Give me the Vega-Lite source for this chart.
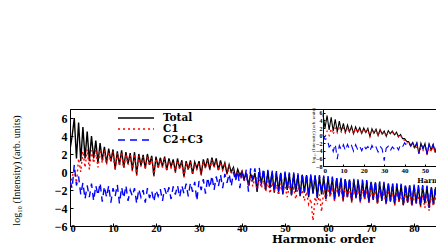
{
  "$schema": "https://vega.github.io/schema/vega-lite/v6.json",
  "width": 366,
  "height": 117,
  "autosize": {"type": "none"},
  "padding": {"left": 70, "top": 109, "right": 0, "bottom": 19},
  "background": "white",
  "config": {
    "view": {"stroke": "black", "strokeWidth": 1},
    "axis": {
      "grid": false,
      "domainColor": "black",
      "tickColor": "black",
      "labelColor": "black",
      "titleColor": "black",
      "labelFont": "Liberation Serif",
      "labelFontWeight": "bold",
      "titleFont": "Liberation Serif",
      "tickSize": -3,
      "labelPadding": 6
    }
  },
  "datasets": {
    "main": [
      {"h":0,"t":2.5,"c":-1.5,"b":-1},
      {"h":0.5,"t":4,"c":-0.5,"b":-1.8},
      {"h":1,"t":6,"c":0.2,"b":0.8},
      {"h":1.5,"t":1.5,"c":-1.2,"b":-1.5},
      {"h":2,"t":5.5,"c":1.5,"b":-0.5},
      {"h":2.5,"t":1.2,"c":0,"b":-2.5},
      {"h":3,"t":5,"c":2.3,"b":-1.2},
      {"h":3.5,"t":1.5,"c":0.5,"b":-3},
      {"h":4,"t":4.5,"c":2.5,"b":-1.5},
      {"h":4.5,"t":1.2,"c":0.3,"b":-2.8},
      {"h":5,"t":4,"c":2.4,"b":-1.3},
      {"h":5.5,"t":1.5,"c":1,"b":-3.2},
      {"h":6,"t":3.5,"c":2.5,"b":-1.5},
      {"h":6.5,"t":1,"c":0.5,"b":-2.6},
      {"h":7,"t":3.2,"c":2.5,"b":-1.2},
      {"h":7.5,"t":1.3,"c":1,"b":-3.3},
      {"h":8,"t":2.8,"c":2.4,"b":-1.6},
      {"h":8.5,"t":1,"c":0.8,"b":-2.8},
      {"h":9,"t":2.6,"c":2.3,"b":-1.5},
      {"h":9.5,"t":1.2,"c":1.1,"b":-3.4},
      {"h":10,"t":2.5,"c":2.3,"b":-1.8},
      {"h":10.5,"t":0.3,"c":0.2,"b":-2.7},
      {"h":11,"t":2.3,"c":2.1,"b":-1.4},
      {"h":11.5,"t":0.8,"c":0.7,"b":-3.5},
      {"h":12,"t":2.4,"c":2.2,"b":-1.7},
      {"h":12.5,"t":0.5,"c":0.4,"b":-2.9},
      {"h":13,"t":2.2,"c":2.0,"b":-1.5},
      {"h":13.5,"t":0.9,"c":0.8,"b":-3.2},
      {"h":14,"t":2.1,"c":1.9,"b":-2.0},
      {"h":14.5,"t":0.2,"c":0.1,"b":-2.7},
      {"h":15,"t":2.2,"c":2.0,"b":-1.8},
      {"h":15.5,"t":-0.3,"c":-0.4,"b":-3.5},
      {"h":16,"t":2.0,"c":1.8,"b":-1.9},
      {"h":16.5,"t":0.7,"c":0.6,"b":-2.8},
      {"h":17,"t":1.9,"c":1.7,"b":-2.0},
      {"h":17.5,"t":0.4,"c":0.3,"b":-3.4},
      {"h":18,"t":2.0,"c":1.8,"b":-1.8},
      {"h":18.5,"t":0.8,"c":0.7,"b":-2.9},
      {"h":19,"t":1.8,"c":1.6,"b":-2.1},
      {"h":19.5,"t":-0.4,"c":-0.5,"b":-3.3},
      {"h":20,"t":1.7,"c":1.5,"b":-2.0},
      {"h":20.5,"t":0.5,"c":0.4,"b":-2.7},
      {"h":21,"t":1.6,"c":1.4,"b":-1.9},
      {"h":21.5,"t":0.6,"c":0.5,"b":-3.2},
      {"h":22,"t":1.7,"c":1.5,"b":-1.8},
      {"h":22.5,"t":0.2,"c":0.1,"b":-2.6},
      {"h":23,"t":1.5,"c":1.3,"b":-1.7},
      {"h":23.5,"t":0.6,"c":0.5,"b":-3.0},
      {"h":24,"t":1.4,"c":1.2,"b":-1.6},
      {"h":24.5,"t":0,"c":-0.1,"b":-2.5},
      {"h":25,"t":1.5,"c":1.3,"b":-1.5},
      {"h":25.5,"t":0.4,"c":0.3,"b":-2.8},
      {"h":26,"t":1.3,"c":1.1,"b":-1.5},
      {"h":26.5,"t":-0.5,"c":-0.6,"b":-2.4},
      {"h":27,"t":1.2,"c":1.0,"b":-1.3},
      {"h":27.5,"t":0.3,"c":0.2,"b":-2.7},
      {"h":28,"t":1.3,"c":1.1,"b":-1.2},
      {"h":28.5,"t":-0.2,"c":-0.3,"b":-2.2},
      {"h":29,"t":1.1,"c":0.9,"b":-1.1},
      {"h":29.5,"t":0.4,"c":0.3,"b":-3.2},
      {"h":30,"t":1.2,"c":1.0,"b":-1.0},
      {"h":30.5,"t":-0.3,"c":-0.4,"b":-2.0},
      {"h":31,"t":1.4,"c":1.2,"b":-0.8},
      {"h":31.5,"t":0.5,"c":0.4,"b":-2.4},
      {"h":32,"t":1.5,"c":1.3,"b":-0.6},
      {"h":32.5,"t":0.3,"c":0.2,"b":-1.8},
      {"h":33,"t":1.6,"c":1.4,"b":-0.4},
      {"h":33.5,"t":0.6,"c":0.5,"b":-2.0},
      {"h":34,"t":1.5,"c":1.3,"b":-0.5},
      {"h":34.5,"t":0.2,"c":0.1,"b":-1.6},
      {"h":35,"t":1.3,"c":1.1,"b":-0.3},
      {"h":35.5,"t":0.3,"c":0.2,"b":-1.8},
      {"h":36,"t":1.0,"c":0.8,"b":-0.2},
      {"h":36.5,"t":-0.2,"c":-0.3,"b":-1.2},
      {"h":37,"t":0.8,"c":0.6,"b":-0.2},
      {"h":37.5,"t":0,"c":-0.1,"b":-1.6},
      {"h":38,"t":0.5,"c":0.3,"b":0},
      {"h":38.5,"t":-0.6,"c":-0.7,"b":-1.0},
      {"h":39,"t":0.3,"c":0.1,"b":0.1},
      {"h":39.5,"t":-0.4,"c":-0.6,"b":-1.8},
      {"h":40,"t":0.1,"c":0,"b":0.2},
      {"h":40.5,"t":-0.8,"c":-1,"b":-1.0},
      {"h":41,"t":-0.1,"c":-0.3,"b":0.3},
      {"h":41.5,"t":-1.5,"c":-1.5,"b":-2.2},
      {"h":42,"t":-0.2,"c":-0.5,"b":0.4},
      {"h":42.5,"t":-0.9,"c":-1.6,"b":-0.8},
      {"h":43,"t":-0.1,"c":-0.6,"b":0.4},
      {"h":43.5,"t":-2.2,"c":-2,"b":-2.0},
      {"h":44,"t":0,"c":-0.8,"b":0.5},
      {"h":44.5,"t":-1.2,"c":-1.8,"b":-1.4},
      {"h":45,"t":0.1,"c":-0.9,"b":0.4},
      {"h":45.5,"t":-2,"c":-2.2,"b":-1.9},
      {"h":46,"t":0.1,"c":-1.0,"b":0.25},
      {"h":46.5,"t":-1.8,"c":-2.4,"b":-1.7},
      {"h":47,"t":0,"c":-1.2,"b":0.15},
      {"h":47.5,"t":-2.3,"c":-2.0,"b":-2.2},
      {"h":48,"t":-0.05,"c":-1.4,"b":0.1},
      {"h":48.5,"t":-2.2,"c":-2.6,"b":-2.1},
      {"h":49,"t":-0.1,"c":-1.3,"b":0.05},
      {"h":49.5,"t":-2.5,"c":-2.2,"b":-2.4},
      {"h":50,"t":-0.1,"c":-1.6,"b":0.05},
      {"h":50.5,"t":-2.0,"c":-2.8,"b":-1.9},
      {"h":51,"t":-0.2,"c":-1.5,"b":-0.05},
      {"h":51.5,"t":-2.6,"c":-2.4,"b":-2.5},
      {"h":52,"t":-0.2,"c":-1.8,"b":-0.05},
      {"h":52.5,"t":-2.2,"c":-3.0,"b":-2.1},
      {"h":53,"t":-0.3,"c":-1.7,"b":-0.15},
      {"h":53.5,"t":-2.7,"c":-2.6,"b":-2.6},
      {"h":54,"t":-0.3,"c":-2.0,"b":-0.15},
      {"h":54.5,"t":-2.3,"c":-3.2,"b":-2.2},
      {"h":55,"t":-0.35,"c":-2.2,"b":-0.2},
      {"h":55.5,"t":-2.8,"c":-3.6,"b":-2.7},
      {"h":56,"t":-0.4,"c":-3.0,"b":-0.25},
      {"h":56.5,"t":-2.4,"c":-5.4,"b":-2.3},
      {"h":57,"t":-0.45,"c":-2.8,"b":-0.3},
      {"h":57.5,"t":-2.9,"c":-3.6,"b":-2.8},
      {"h":58,"t":-0.5,"c":-2.5,"b":-0.35},
      {"h":58.5,"t":-2.5,"c":-4.4,"b":-2.4},
      {"h":59,"t":-0.55,"c":-2.0,"b":-0.4},
      {"h":59.5,"t":-3.0,"c":-3.2,"b":-2.9},
      {"h":60,"t":-0.6,"c":-1.8,"b":-0.45},
      {"h":60.5,"t":-2.6,"c":-2.8,"b":-2.5},
      {"h":61,"t":-0.65,"c":-1.7,"b":-0.5},
      {"h":61.5,"t":-3.1,"c":-3.2,"b":-3.0},
      {"h":62,"t":-0.7,"c":-1.6,"b":-0.55},
      {"h":62.5,"t":-2.7,"c":-2.7,"b":-2.6},
      {"h":63,"t":-0.75,"c":-1.7,"b":-0.6},
      {"h":63.5,"t":-3.2,"c":-3.3,"b":-3.1},
      {"h":64,"t":-0.8,"c":-1.6,"b":-0.65},
      {"h":64.5,"t":-2.8,"c":-2.8,"b":-2.7},
      {"h":65,"t":-0.85,"c":-1.7,"b":-0.7},
      {"h":65.5,"t":-3.3,"c":-3.4,"b":-3.2},
      {"h":66,"t":-0.9,"c":-1.8,"b":-0.75},
      {"h":66.5,"t":-2.9,"c":-2.9,"b":-2.8},
      {"h":67,"t":-0.95,"c":-1.8,"b":-0.8},
      {"h":67.5,"t":-3.3,"c":-3.4,"b":-3.2},
      {"h":68,"t":-1.0,"c":-1.9,"b":-0.85},
      {"h":68.5,"t":-3.0,"c":-3.0,"b":-2.9},
      {"h":69,"t":-1.05,"c":-2.0,"b":-0.9},
      {"h":69.5,"t":-3.4,"c":-3.5,"b":-3.3},
      {"h":70,"t":-1.1,"c":-2.0,"b":-0.95},
      {"h":70.5,"t":-3.1,"c":-3.0,"b":-3.0},
      {"h":71,"t":-1.15,"c":-2.1,"b":-1.0},
      {"h":71.5,"t":-3.5,"c":-3.6,"b":-3.4},
      {"h":72,"t":-1.2,"c":-2.1,"b":-1.05},
      {"h":72.5,"t":-3.2,"c":-3.1,"b":-3.1},
      {"h":73,"t":-1.25,"c":-2.2,"b":-1.1},
      {"h":73.5,"t":-3.5,"c":-3.6,"b":-3.4},
      {"h":74,"t":-1.3,"c":-2.2,"b":-1.15},
      {"h":74.5,"t":-3.3,"c":-3.2,"b":-3.2},
      {"h":75,"t":-1.35,"c":-2.3,"b":-1.2},
      {"h":75.5,"t":-3.6,"c":-3.7,"b":-3.5},
      {"h":76,"t":-1.4,"c":-2.3,"b":-1.25},
      {"h":76.5,"t":-3.3,"c":-3.3,"b":-3.2},
      {"h":77,"t":-1.45,"c":-2.4,"b":-1.3},
      {"h":77.5,"t":-3.7,"c":-3.7,"b":-3.6},
      {"h":78,"t":-1.5,"c":-2.4,"b":-1.35},
      {"h":78.5,"t":-3.4,"c":-3.4,"b":-3.3},
      {"h":79,"t":-1.5,"c":-2.5,"b":-1.35},
      {"h":79.5,"t":-3.7,"c":-3.8,"b":-3.6},
      {"h":80,"t":-1.55,"c":-2.5,"b":-1.4},
      {"h":80.5,"t":-3.5,"c":-3.5,"b":-3.4},
      {"h":81,"t":-1.6,"c":-2.6,"b":-1.45},
      {"h":81.5,"t":-3.8,"c":-3.9,"b":-3.7},
      {"h":82,"t":-1.6,"c":-2.6,"b":-1.45},
      {"h":82.5,"t":-3.5,"c":-4.0,"b":-3.4},
      {"h":83,"t":-1.65,"c":-2.7,"b":-1.5},
      {"h":83.5,"t":-4.0,"c":-4.3,"b":-3.9},
      {"h":84,"t":-1.7,"c":-2.6,"b":-1.55},
      {"h":84.5,"t":-3.6,"c":-3.8,"b":-3.5},
      {"h":85,"t":-1.7,"c":-2.7,"b":-1.55},
      {"h":85.5,"t":-3.9,"c":-4.0,"b":-3.8},
      {"h":86,"t":-1.75,"c":-2.7,"b":-1.6}
    ],
    "inset": [
      {"h":0,"t":5.5,"c":0.5,"b":0.3},
      {"h":1,"t":2,"c":-0.5,"b":-1},
      {"h":2,"t":5.3,"c":1.2,"b":-0.8},
      {"h":3,"t":1.5,"c":0,"b":-3},
      {"h":4,"t":4.8,"c":1.8,"b":-2.4},
      {"h":5,"t":1.2,"c":0.3,"b":-4.2},
      {"h":6,"t":4.3,"c":2.0,"b":-2.2},
      {"h":7,"t":1,"c":0.7,"b":-6.2},
      {"h":8,"t":3.8,"c":2.0,"b":-2.6},
      {"h":9,"t":1.2,"c":0.9,"b":-3.8},
      {"h":10,"t":3.2,"c":2.0,"b":-2.4},
      {"h":11,"t":0.8,"c":0.6,"b":-4.0},
      {"h":12,"t":2.8,"c":2.0,"b":-2.3},
      {"h":13,"t":1,"c":0.9,"b":-3.6},
      {"h":14,"t":2.5,"c":1.9,"b":-2.6},
      {"h":15,"t":0.5,"c":0.4,"b":-4.1},
      {"h":16,"t":2.3,"c":1.9,"b":-2.4},
      {"h":17,"t":0.9,"c":0.8,"b":-3.7},
      {"h":18,"t":2.1,"c":1.8,"b":-2.8},
      {"h":19,"t":0.6,"c":0.5,"b":-4.0},
      {"h":20,"t":2.0,"c":1.8,"b":-2.5},
      {"h":21,"t":0.8,"c":0.7,"b":-3.5},
      {"h":22,"t":1.9,"c":1.7,"b":-2.9},
      {"h":23,"t":-0.3,"c":-0.4,"b":-4.1},
      {"h":24,"t":1.8,"c":1.6,"b":-2.6},
      {"h":25,"t":0.6,"c":0.5,"b":-3.7},
      {"h":26,"t":1.7,"c":1.5,"b":-3.0},
      {"h":27,"t":0,"c":-0.1,"b":-4.3},
      {"h":28,"t":1.6,"c":1.4,"b":-2.8},
      {"h":29,"t":0.4,"c":0.3,"b":-3.5},
      {"h":30,"t":1.2,"c":1.0,"b":-6.6},
      {"h":31,"t":-0.2,"c":-0.3,"b":-3.3},
      {"h":32,"t":1.3,"c":1.1,"b":-2.8},
      {"h":33,"t":0.5,"c":0.4,"b":-4.0},
      {"h":34,"t":1.2,"c":1.0,"b":-3.0},
      {"h":35,"t":0.2,"c":0.1,"b":-3.6},
      {"h":36,"t":0.9,"c":0.7,"b":-2.8},
      {"h":37,"t":-0.3,"c":-0.4,"b":-3.8},
      {"h":38,"t":0.3,"c":0.1,"b":-2.4},
      {"h":39,"t":-0.8,"c":-1.0,"b":-3.0},
      {"h":40,"t":-0.8,"c":-1.2,"b":-1.9},
      {"h":41,"t":-1.5,"c":-2.0,"b":-2.6},
      {"h":42,"t":-1.6,"c":-1.8,"b":-1.9},
      {"h":43,"t":-2.6,"c":-2.8,"b":-2.8},
      {"h":44,"t":-1.8,"c":-2.5,"b":-2.0},
      {"h":45,"t":-3.2,"c":-3.5,"b":-3.0},
      {"h":46,"t":-1.9,"c":-3.0,"b":-2.0},
      {"h":47,"t":-4.8,"c":-4.5,"b":-4.6},
      {"h":48,"t":-2.0,"c":-3.3,"b":-2.1},
      {"h":49,"t":-3.5,"c":-4.0,"b":-3.3},
      {"h":50,"t":-2.1,"c":-3.0,"b":-2.2},
      {"h":51,"t":-5.0,"c":-4.8,"b":-4.8},
      {"h":52,"t":-2.2,"c":-3.2,"b":-2.3},
      {"h":53,"t":-3.8,"c":-4.2,"b":-3.6},
      {"h":54,"t":-2.3,"c":-3.0,"b":-2.4},
      {"h":55,"t":-4.5,"c":-4.5,"b":-4.3},
      {"h":56,"t":-2.4,"c":-3.2,"b":-2.5}
    ]
  },
  "layer": [
    {
      "data": {"name": "main"},
      "transform": [{"fold": ["t", "c", "b"], "as": ["k", "v"]}],
      "mark": {"type": "line", "strokeWidth": 1.4, "clip": true},
      "encoding": {
        "x": {
          "field": "h", "type": "quantitative",
          "scale": {"domain": [0, 85.1], "nice": false, "zero": false},
          "axis": {
            "values": [0, 10, 20, 30, 40, 50, 60, 70, 80],
            "labelFontSize": 10.5,
            "labelPadding": 0,
            "title": "Harmonic order",
            "titleFont": "DejaVu Serif",
            "titleFontSize": 11.5,
            "titleFontWeight": "bold",
            "titleX": 253,
            "titleY": 16.5,
            "titleBaseline": "alphabetic"
          }
        },
        "y": {
          "field": "v", "type": "quantitative",
          "scale": {"domain": [-6, 7], "nice": false, "zero": false},
          "axis": {
            "values": [-6, -4, -2, 0, 2, 4, 6],
            "labelFontSize": 12,
            "title": "log₁₀ (Intensity) (arb. units)",
            "titleFontSize": 10,
            "titleFontWeight": "normal",
            "titleAngle": -90,
            "titleX": -54,
            "titleY": 61,
            "titleAlign": "center",
            "titleBaseline": "middle"
          }
        },
        "color": {
          "field": "k", "type": "nominal",
          "scale": {"domain": ["t", "c", "b"], "range": ["#000000", "#ff0000", "#0000ff"]},
          "legend": {
            "title": null, "orient": "none", "legendX": 47, "legendY": 4, "padding": 0,
            "symbolType": "stroke", "symbolSize": 1296, "symbolStrokeWidth": 1.5,
            "clipHeight": 10, "rowPadding": 0,
            "labelFont": "DejaVu Serif", "labelFontWeight": "bold", "labelFontSize": 10.5,
            "labelColor": "black", "labelOffset": 8,
            "labelExpr": "datum.label == 't' ? 'Total' : datum.label == 'c' ? 'C1' : 'C2+C3'"
          }
        },
        "strokeDash": {
          "field": "k", "type": "nominal",
          "scale": {"domain": ["t", "c", "b"], "range": [[1, 0], [2, 3], [7, 5]]},
          "legend": {
            "title": null, "orient": "none", "legendX": 47, "legendY": 4, "padding": 0,
            "symbolType": "stroke", "symbolSize": 1296, "symbolStrokeWidth": 1.5,
            "clipHeight": 10, "rowPadding": 0,
            "labelFont": "DejaVu Serif", "labelFontWeight": "bold", "labelFontSize": 10.5,
            "labelColor": "black", "labelOffset": 8,
            "labelExpr": "datum.label == 't' ? 'Total' : datum.label == 'c' ? 'C1' : 'C2+C3'"
          }
        }
      }
    },
    {
      "data": {"name": "inset"},
      "transform": [{"fold": ["t", "c", "b"], "as": ["k", "v"]}],
      "mark": {"type": "line", "strokeWidth": 1.1, "clip": true},
      "encoding": {
        "x": {
          "field": "h", "type": "quantitative",
          "scale": {"domain": [0, 60], "range": [253, 375.4], "nice": false, "zero": false},
          "axis": {
            "orient": "bottom", "offset": -60,
            "values": [0, 10, 20, 30, 40, 50],
            "labelFontSize": 7, "labelPadding": 2, "tickSize": -2,
            "title": "Harmonic order",
            "titleFont": "DejaVu Serif",
            "titleFontSize": 7,
            "titleFontWeight": "bold",
            "titleX": 378,
            "titleY": 14,
            "titleBaseline": "middle"
          }
        },
        "y": {
          "field": "v", "type": "quantitative",
          "scale": {"domain": [-8, 7], "range": [57, 0], "nice": false, "zero": false},
          "axis": {
            "orient": "left", "offset": -253,
            "values": [-8, -6, -4, -2, 0, 2, 4, 6],
            "labelFontSize": 6, "labelPadding": 3, "tickSize": -2,
            "title": "log₁₀ (Intensity) (arb. units)",
            "titleFontSize": 5,
            "titleFontWeight": "normal",
            "titleAngle": -90,
            "titleX": -11,
            "titleY": 26,
            "titleAlign": "center",
            "titleBaseline": "middle"
          }
        },
        "color": {"field": "k", "type": "nominal", "scale": {"domain": ["t", "c", "b"], "range": ["#000000", "#ff0000", "#0000ff"]}},
        "strokeDash": {"field": "k", "type": "nominal", "scale": {"domain": ["t", "c", "b"], "range": [[1, 0], [2, 3], [7, 5]]}}
      }
    }
  ],
  "resolve": {"scale": {"x": "independent", "y": "independent"}}
}
